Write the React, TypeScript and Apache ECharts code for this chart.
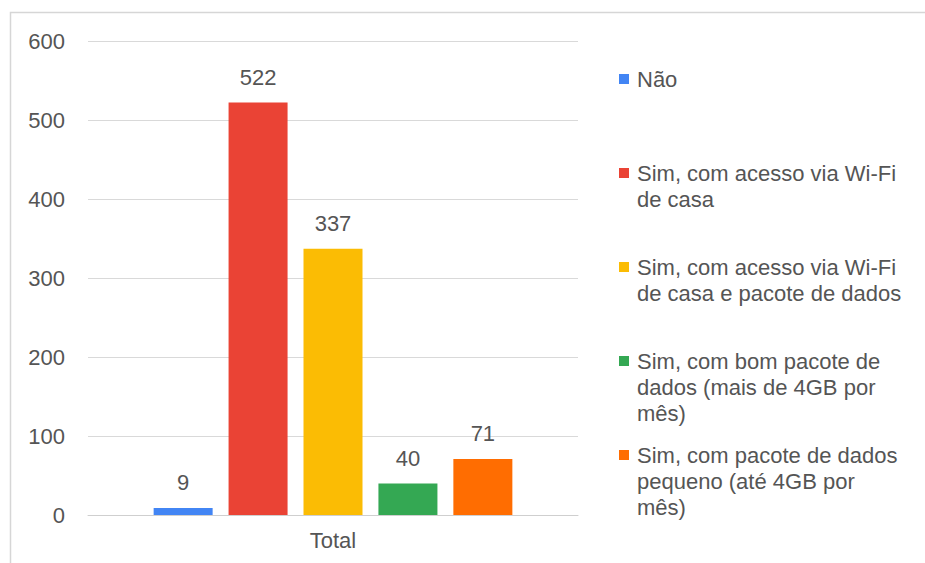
import React, { useEffect, useRef } from "react";
import * as echarts from "echarts";

const categories = ["Total"];
const seriesNames = [
  "Não",
  "Sim, com acesso via Wi-Fi\nde casa",
  "Sim, com acesso via Wi-Fi\nde casa e pacote de dados",
  "Sim, com bom pacote de\ndados (mais de 4GB por\nmês)",
  "Sim, com pacote de dados\npequeno (até 4GB por\nmês)",
];
const seriesValues = [9, 522, 337, 40, 71];
const seriesColors = ["#4285F4", "#EA4335", "#FBBC04", "#34A853", "#FF6D01"];
const yTicks = [0, 100, 200, 300, 400, 500, 600];

const FONT = "'Liberation Sans', Arial, sans-serif";
const TEXT = "#555555";

export default function App() {
  const ref = useRef<HTMLDivElement>(null);
  useEffect(() => {
    if (!ref.current) return;
    const chart = echarts.init(ref.current, undefined, { renderer: "svg" });
    const legendTop = 79;
    const legendStep = 94;
    const legendGraphics: any[] = [];
    seriesNames.forEach((name, i) => {
      const cy = legendTop + i * legendStep;
      legendGraphics.push({
        type: "rect",
        shape: { x: 619, y: cy - 5, width: 10, height: 10 },
        style: { fill: seriesColors[i] },
      });
      legendGraphics.push({
        type: "text",
        x: 637,
        y: cy - 13,
        style: {
          text: name,
          fill: TEXT,
          font: `22px ${FONT}`,
          lineHeight: 26,
          verticalAlign: "top",
          align: "left",
        },
      });
    });
    chart.setOption({
      animation: false,
      backgroundColor: "#ffffff",
      textStyle: { fontFamily: FONT },
      grid: { left: 88, right: 347, top: 41, bottom: 48, containLabel: false },
      xAxis: {
        type: "category",
        data: categories,
        axisLine: { show: true, lineStyle: { color: "#cfcfcf", width: 1 } },
        axisTick: { show: false },
        axisLabel: { color: TEXT, fontSize: 22, fontFamily: FONT, margin: 14 },
      },
      yAxis: {
        type: "value",
        min: yTicks[0],
        max: yTicks[yTicks.length - 1],
        interval: 100,
        axisLine: { show: false },
        axisTick: { show: false },
        axisLabel: { color: TEXT, fontSize: 22, fontFamily: FONT, margin: 23 },
        splitLine: { lineStyle: { color: "#d9d9d9", width: 1 } },
      },
      series: seriesNames.map((name, i) => ({
        type: "bar",
        name,
        data: [seriesValues[i]],
        barWidth: 59,
        barGap: "27%",
        itemStyle: { color: seriesColors[i] },
        label: {
          show: true,
          position: "top",
          distance: 14,
          color: TEXT,
          fontSize: 22,
          fontFamily: FONT,
        },
      })),
      graphic: [
        {
          type: "rect",
          shape: { x: 10.5, y: 12.5, width: 930, height: 560 },
          style: { fill: "none", stroke: "#d6d6d6", lineWidth: 1.5 },
          silent: true,
        },
        ...legendGraphics,
      ],
    });
    return () => chart.dispose();
  }, []);
  return (
    <div
      ref={ref}
      style={{ position: "fixed", left: 0, top: 0, width: 925, height: 563 }}
    />
  );
}
